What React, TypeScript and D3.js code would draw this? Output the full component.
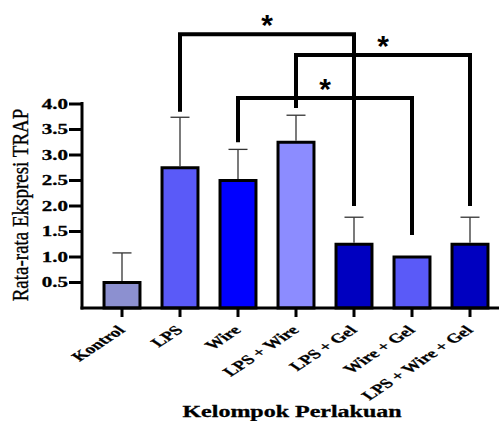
import React from 'react';
import * as d3 from 'd3';

// groups and their colours
const groups = ['Kontrol', 'LPS', 'Wire', 'LPS + Wire', 'LPS + Gel', 'Wire + Gel', 'LPS + Wire + Gel'];
const means = [0.5, 2.75, 2.5, 3.25, 1.25, 1.0, 1.25];
const sds = [0.58, 0.99, 0.61, 0.53, 0.53, 0, 0.53];
const fills = ['#8C90D0', '#5A5AF8', '#0000FF', '#8C8CFF', '#0000C0', '#5A5AF8', '#0000C0'];
const yTicks = [0.5, 1.0, 1.5, 2.0, 2.5, 3.0, 3.5, 4.0];

// significance brackets: from, to, bracket level, left leg end, right leg end
const compFrom = ['LPS', 'LPS + Wire', 'Wire'];
const compTo = ['LPS + Gel', 'LPS + Wire + Gel', 'Wire + Gel'];
const compLevel = [5.37, 4.96, 4.12];
const compLeftEnd = [3.85, 3.92, 3.25];
const compRightEnd = [2.0, 2.0, 1.43];

const width = 499;
const height = 421;
const stretch = 1.5; // text in the figure is stretched sideways

export default function App() {
  const x = d3.scaleBand<string>().domain(groups).range([93, 499]).paddingInner(0.38).paddingOuter(0.19);
  const y = d3.scaleLinear().domain([0, 4]).range([308, 104]);
  const bw = x.bandwidth();
  const cx = (g: string) => (x(g) as number) + bw / 2;

  const serif = '"Liberation Serif", "Times New Roman", serif';

  return (
    <svg
      width={width}
      height={height}
      style={{ position: 'absolute', left: 0, top: 0, background: '#fff' }}
      fontFamily={serif}
    >
      {/* bars */}
      {groups.map((g, i) => (
        <rect
          key={g}
          x={x(g)}
          y={y(means[i])}
          width={bw}
          height={y(0) - y(means[i])}
          fill={fills[i]}
          stroke="#000"
          strokeWidth={3}
        />
      ))}

      {/* error bars */}
      {groups.map((g, i) =>
        sds[i] > 0 ? (
          <g key={g} stroke="#333" strokeWidth={1.3}>
            <line x1={cx(g)} x2={cx(g)} y1={y(means[i]) - 1.5} y2={y(means[i] + sds[i])} />
            <line x1={cx(g) - 9.5} x2={cx(g) + 9.5} y1={y(means[i] + sds[i])} y2={y(means[i] + sds[i])} />
          </g>
        ) : null
      )}

      {/* axes */}
      <line x1={82} x2={82} y1={102} y2={309.5} stroke="#000" strokeWidth={3} />
      <line x1={80.5} x2={width} y1={y(0)} y2={y(0)} stroke="#000" strokeWidth={3} />
      {yTicks.map((t) => (
        <g key={t}>
          <line x1={69} x2={82} y1={y(t)} y2={y(t)} stroke="#000" strokeWidth={3} />
          <text
            transform={`translate(68,${y(t) + 4.8}) scale(${stretch},1)`}
            textAnchor="end"
            fontWeight="bold"
            fontSize={14}
            stroke="#000"
            strokeWidth={0.3}
          >
            {t.toFixed(1)}
          </text>
        </g>
      ))}
      {groups.map((g) => (
        <g key={g}>
          <line x1={cx(g)} x2={cx(g)} y1={y(0)} y2={y(0) + 9} stroke="#000" strokeWidth={3} />
          <text
            transform={`translate(${cx(g) + 4},331) scale(${stretch},1) rotate(-45)`}
            textAnchor="end"
            fontWeight="bold"
            fontSize={13}
            stroke="#000"
            strokeWidth={0.25}
          >
            {g}
          </text>
        </g>
      ))}

      {/* axis titles */}
      <text
        transform={`translate(28,205) scale(1.2,1) rotate(-90)`}
        textAnchor="middle"
        fontSize={19}
        stroke="#000"
        strokeWidth={0.3}
      >
        Rata-rata Ekspresi TRAP
      </text>
      <text
        transform={`translate(292,417) scale(${stretch},1)`}
        textAnchor="middle"
        fontWeight="bold"
        fontSize={16}
        stroke="#000"
        strokeWidth={0.3}
      >
        Kelompok Perlakuan
      </text>

      {/* significance brackets */}
      {compFrom.map((f, i) => {
        const x1 = cx(f);
        const x2 = cx(compTo[i]);
        const top = y(compLevel[i]);
        const path = d3.path();
        path.moveTo(x1, y(compLeftEnd[i]));
        path.lineTo(x1, top);
        path.lineTo(x2, top);
        path.lineTo(x2, y(compRightEnd[i]));
        return (
          <g key={f}>
            <path d={path.toString()} fill="none" stroke="#000" strokeWidth={4} />
            <text
              x={(x1 + x2) / 2}
              y={top + 1}
              textAnchor="middle"
              fontFamily='"Liberation Sans", Arial, sans-serif'
              fontWeight="bold"
              fontSize={30}
            >
              *
            </text>
          </g>
        );
      })}
    </svg>
  );
}
